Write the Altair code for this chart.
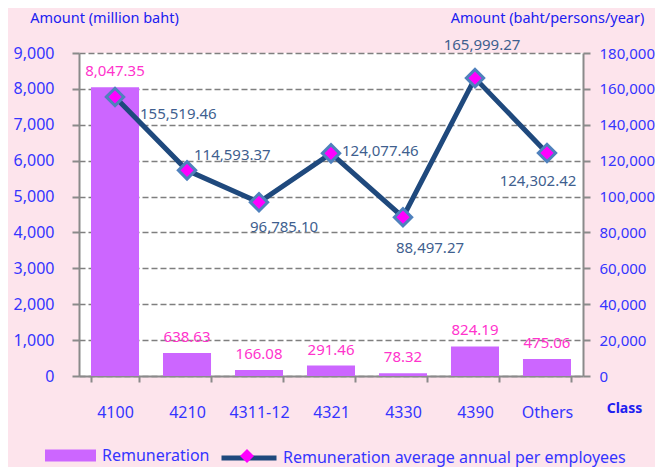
import altair as alt
import pandas as pd

# ---------------- data ----------------
classes = ["4100", "4210", "4311-12", "4321", "4330", "4390", "Others"]
remuneration = [8047.35, 638.63, 166.08, 291.46, 78.32, 824.19, 475.06]
avg_per_employee = [155519.46, 114593.37, 96785.10, 124077.46, 88497.27, 165999.27, 124302.42]
left_ticks = [0, 1000, 2000, 3000, 4000, 5000, 6000, 7000, 8000, 9000]
right_ticks = [0, 20000, 40000, 60000, 80000, 100000, 120000, 140000, 160000, 180000]
series_bar = "Remuneration"
series_line = "Remuneration average annual per employees"

df = pd.DataFrame({"cls": classes, "rem": remuneration, "avg": avg_per_employee})
df["s_bar"] = series_bar
df["s_line"] = series_line
df["s_mark"] = "marker"
df["rem_label"] = [f"{v:,.2f}" for v in remuneration]
df["avg_label"] = [f"{v:,.2f}" for v in avg_per_employee]

# ---------------- style ----------------
FONT = "Noto Sans"
BLUE = "#3535ff"
TITLE_BLUE = "#2020f0"
GRAY = "#8a8a8a"
BAR = "#cc66ff"
BAR_LABEL = "#ff33cc"
LINE = "#1f497d"
LINE_LABEL = "#3f5f8f"
MARK_FILL = "#ff00ff"
MARK_STROKE = "#4f81bd"

# label placement (align, dx, dy) for the line's value labels
LINE_LABEL_LAYOUT = {
    "4100": ("left", 25, 17),
    "4210": ("left", 7, -15),
    "4311-12": ("left", -9, 25),
    "4321": ("left", 11, -2),
    "4330": ("center", 27, 31),
    "4390": ("center", 7, -33),
    "Others": ("center", -9, 28),
}

x_enc = alt.X(
    "cls:N", sort=classes,
    scale=alt.Scale(paddingInner=0.333, paddingOuter=0.1667),
    axis=alt.Axis(
        title="Class", titleX=545, titleY=32, titleAlign="center", titleBaseline="middle",
        titleFontWeight="bold", titleFontSize=14, titleColor=TITLE_BLUE, titleFont=FONT,
        labelAngle=0, labelFontSize=16, labelColor=BLUE, labelFont=FONT, labelPadding=22,
        tickBand="extent", tickSize=6, tickColor=GRAY, tickWidth=2,
        domainColor=GRAY, domainWidth=2, grid=False,
    ),
)

yL = alt.Y(
    "rem:Q",
    scale=alt.Scale(domain=[0, 9000], nice=False, zero=True),
    axis=alt.Axis(
        title="Amount (million baht)", titleAngle=0, titleX=25, titleY=-35,
        titleAlign="center", titleBaseline="middle", titleFontSize=14.5,
        titleFontWeight="normal", titleColor=TITLE_BLUE, titleFont=FONT,
        values=left_ticks, format=",.0f", labelFontSize=16, labelColor=BLUE, labelFont=FONT,
        labelPadding=18, tickSize=7, tickColor=GRAY, tickWidth=2,
        domainColor=GRAY, domainWidth=2,
        grid=True, gridDash=[6, 3], gridColor="#7f7f7f", gridWidth=1.5,
    ),
)

yR = alt.Y(
    "avg:Q",
    scale=alt.Scale(domain=[0, 180000], nice=False, zero=True),
    axis=alt.Axis(
        orient="right",
        title="Amount (baht/persons/year)", titleAngle=0, titleX=-36, titleY=-35,
        titleAlign="center", titleBaseline="middle", titleFontSize=14.5,
        titleFontWeight="normal", titleColor=TITLE_BLUE, titleFont=FONT,
        values=right_ticks, format=",.0f", labelFontSize=15, labelColor=BLUE, labelFont=FONT,
        labelPadding=9, tickSize=7, tickColor=GRAY, tickWidth=2,
        domainColor=GRAY, domainWidth=2, grid=False,
    ),
)

base = alt.Chart(df)

bars = base.mark_bar(opacity=1).encode(
    x=x_enc, y=yL,
    color=alt.Color(
        "s_bar:N",
        scale=alt.Scale(domain=[series_bar], range=[BAR]),
        legend=alt.Legend(
            title=None, orient="none", legendX=-34, legendY=377,
            symbolType="M-1,-0.235H1V0.235H-1Z", symbolSize=2601, symbolStrokeWidth=0,
            symbolOpacity=1, labelFontSize=16, labelColor=BLUE, labelFont=FONT,
            labelOffset=6, labelLimit=400, padding=0,
        ),
    ),
)

bar_text = base.mark_text(
    dy=-16, color=BAR_LABEL, fontSize=15, font=FONT, baseline="middle"
).encode(x=x_enc, y=yL, text="rem_label:N")

left = alt.layer(bars, bar_text)

line = base.mark_line(strokeWidth=5).encode(
    x=x_enc, y=yR,
    stroke=alt.Stroke(
        "s_line:N",
        scale=alt.Scale(domain=[series_line], range=[LINE]),
        legend=alt.Legend(
            title=None, orient="none", legendX=140, legendY=375,
            symbolType="stroke", symbolSize=3025, symbolStrokeWidth=5,
            labelFontSize=16, labelColor=BLUE, labelFont=FONT, labelOffset=4,
            labelLimit=500, padding=0,
        ),
    ),
)

points = base.mark_point(
    filled=True, fill=MARK_FILL, stroke=MARK_STROKE, strokeWidth=3, size=300, opacity=1
).encode(
    x=x_enc, y=yR,
    shape=alt.Shape(
        "s_mark:N",
        scale=alt.Scale(domain=["marker"], range=["diamond"]),
        legend=alt.Legend(
            title=None, orient="none", legendX=161, legendY=396,
            symbolSize=196, symbolFillColor=MARK_FILL, symbolStrokeColor=MARK_FILL,
            symbolStrokeWidth=0, labelExpr="''", padding=0,
        ),
    ),
)

line_texts = []
for c in classes:
    align, dx, dy = LINE_LABEL_LAYOUT[c]
    line_texts.append(
        base.transform_filter(alt.datum.cls == c).mark_text(
            align=align, dx=dx, dy=dy, baseline="middle",
            color=LINE_LABEL, fontSize=15, font=FONT,
        ).encode(x=x_enc, y=yR, text="avg_label:N")
    )

right = alt.layer(line, points, *line_texts)

chart = (
    alt.layer(left, right)
    .resolve_scale(y="independent", color="independent", stroke="independent", shape="independent")
    .properties(
        width=504, height=323,
        autosize=alt.AutoSizeParams(type="none"),
        padding={"left": 71, "top": 45, "right": 72, "bottom": 91},
        background="#fde4ec",
    )
    .configure(font=FONT)
    .configure_view(fill="white", strokeWidth=0)
)

chart.save("out.html", embed_options={"renderer": "svg", "actions": False})
